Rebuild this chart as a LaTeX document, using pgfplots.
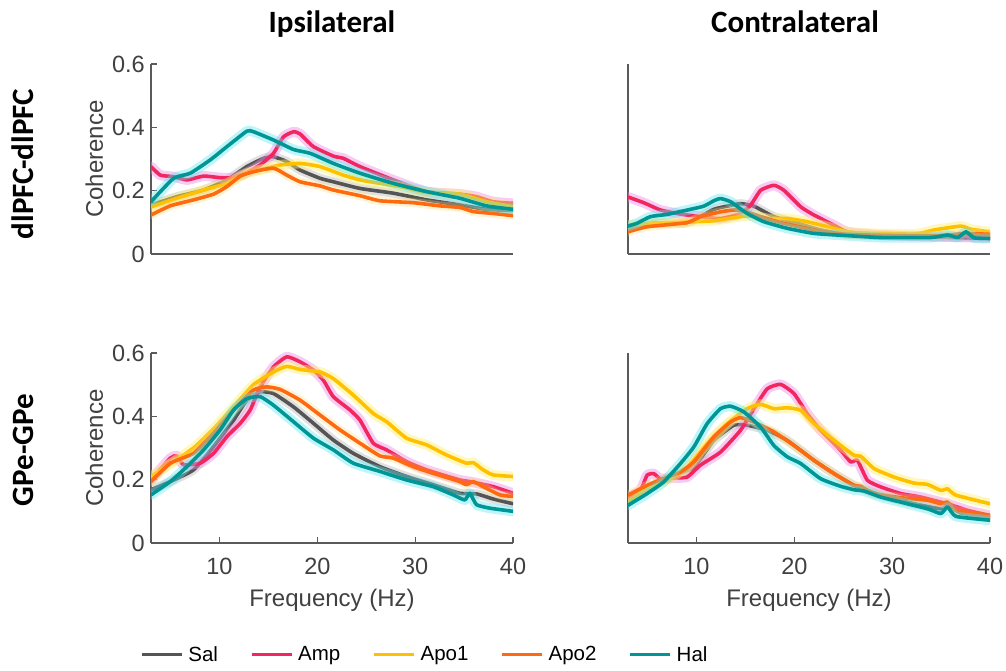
\documentclass[border=0pt]{standalone}
\usepackage{fontspec}
\setmainfont{Liberation Sans}
\newfontfamily\calibri{Carlito}
\usepackage{pgfplots}
\usepackage{pgfplotstable}
\pgfplotsset{compat=1.18}

\definecolor{csal}{RGB}{85,85,85}
\definecolor{camp}{RGB}{240,40,95}
\definecolor{capo1}{RGB}{255,192,0}
\definecolor{capo2}{RGB}{255,105,15}
\definecolor{chal}{RGB}{0,150,150}
\definecolor{hsal}{RGB}{170,170,170}
\definecolor{hamp}{RGB}{240,140,230}
\definecolor{hapo1}{RGB}{255,240,110}
\definecolor{hapo2}{RGB}{255,220,120}
\definecolor{hhal}{RGB}{90,230,240}
\definecolor{axgray}{RGB}{90,90,90}
\definecolor{txgray}{RGB}{64,64,64}

% ---------------- data ----------------
\pgfplotstableread{
3 0.155
5.65 0.181
8.37 0.202
10.76 0.234
12.8 0.276
14.5 0.302
15.52 0.307
16.88 0.292
18.24 0.265
20.28 0.239
21.64 0.228
24.36 0.207
27.76 0.192
31.16 0.171
34.56 0.155
37.29 0.141
40 0.137
}\TLsal
\pgfplotstableread{
3 0.276
3.95 0.249
5.31 0.244
6.67 0.234
8.37 0.246
10.07 0.241
11.44 0.241
12.8 0.257
14.16 0.281
15.52 0.318
16.54 0.37
17.56 0.386
18.24 0.379
19.6 0.339
21.64 0.309
22.66 0.302
24.36 0.276
27.76 0.234
31.16 0.197
34.56 0.189
36.27 0.181
37.97 0.165
40 0.16
}\TLamp
\pgfplotstableread{
3 0.149
5.65 0.176
8.37 0.202
10.76 0.223
12.8 0.255
14.84 0.271
16.2 0.281
18.24 0.286
20.28 0.276
22.66 0.249
24.36 0.234
26.4 0.223
28.78 0.211
31.16 0.194
34.56 0.189
37.29 0.165
40 0.149
}\TLapoa
\pgfplotstableread{
3 0.123
4.97 0.152
7.35 0.171
9.39 0.189
10.76 0.213
12.12 0.246
13.48 0.26
15.52 0.271
16.88 0.249
18.24 0.228
20.28 0.215
21.64 0.202
24.36 0.184
26.4 0.168
29.8 0.162
32.52 0.152
34.56 0.147
35.93 0.134
37.97 0.128
40 0.121
}\TLapob
\pgfplotstableread{
3 0.165
5.31 0.239
7.01 0.255
9.05 0.297
10.76 0.339
12.8 0.388
13.48 0.386
15.52 0.36
17.56 0.33
19.26 0.318
21.64 0.286
24.36 0.255
27.76 0.223
31.16 0.197
34.56 0.176
37.29 0.152
40 0.141
}\TLhal

\pgfplotstableread{
3 0.081
5.63 0.097
9.04 0.099
11.77 0.141
13.14 0.151
14.5 0.159
15.87 0.151
17.91 0.118
20.3 0.097
22.69 0.076
25.42 0.062
32.25 0.055
40 0.049
}\TRsal
\pgfplotstableread{
3 0.18
4.6 0.162
6.31 0.139
8.36 0.126
10.41 0.118
12.45 0.112
14.5 0.128
15.53 0.154
16.55 0.201
17.91 0.217
18.94 0.201
20.65 0.149
22.01 0.123
24.06 0.091
25.42 0.07
28.84 0.06
35.66 0.055
40 0.055
}\TRamp
\pgfplotstableread{
3 0.091
5.63 0.097
9.04 0.101
11.77 0.105
14.5 0.118
15.87 0.12
17.23 0.112
19.28 0.112
21.33 0.102
24.06 0.081
26.11 0.067
32.25 0.063
34.3 0.076
37.03 0.088
38.05 0.078
40 0.07
}\TRapoa
\pgfplotstableread{
3 0.07
4.95 0.086
9.04 0.099
10.41 0.118
12.45 0.133
13.82 0.139
14.84 0.136
16.55 0.118
18.6 0.099
22.01 0.076
25.42 0.062
32.25 0.057
35.66 0.059
37.37 0.065
40 0.062
}\TRapob
\pgfplotstableread{
3 0.088
3.92 0.097
5.29 0.118
6.99 0.125
9.38 0.141
10.75 0.151
11.77 0.168
12.45 0.175
13.48 0.165
15.18 0.128
16.89 0.102
19.28 0.081
22.01 0.065
25.42 0.058
28.84 0.052
33.96 0.052
35.66 0.06
36.69 0.052
37.54 0.07
38.39 0.051
40 0.049
}\TRhal

\pgfplotstableread{
3 0.168
4.97 0.194
7.35 0.231
9.39 0.304
11.44 0.388
12.8 0.451
14.16 0.477
15.52 0.472
17.56 0.43
19.6 0.378
21.64 0.325
23.68 0.283
26.4 0.241
29.12 0.21
31.84 0.184
34.56 0.157
36.27 0.155
37.97 0.139
40 0.124
}\BLsal
\pgfplotstableread{
3 0.199
4.97 0.268
5.65 0.275
6.33 0.247
8.03 0.252
9.39 0.283
10.76 0.336
12.12 0.378
13.14 0.42
14.16 0.493
15.52 0.556
16.88 0.588
18.24 0.572
19.6 0.546
20.62 0.514
21.64 0.462
23.34 0.42
24.36 0.388
25.72 0.315
27.08 0.294
29.12 0.257
31.16 0.231
34.56 0.199
35.59 0.194
37.97 0.178
40 0.157
}\BLamp
\pgfplotstableread{
3 0.21
4.97 0.25
7.35 0.30
9.39 0.36
11.44 0.43
13.48 0.50
15.52 0.54
16.88 0.558
18.24 0.548
20.28 0.54
21.64 0.519
23.68 0.467
25.72 0.409
27.08 0.383
29.12 0.331
31.16 0.31
33.2 0.278
35.24 0.252
35.93 0.254
36.95 0.231
37.97 0.215
40 0.21
}\BLapoa
\pgfplotstableread{
3 0.194
4.97 0.252
7.35 0.283
9.39 0.346
11.44 0.42
13.48 0.483
14.84 0.493
16.2 0.485
18.24 0.451
20.28 0.404
22.32 0.357
24.36 0.315
26.4 0.275
27.76 0.268
29.8 0.241
31.84 0.22
34.56 0.194
35.24 0.184
35.93 0.194
36.95 0.178
38.65 0.152
40 0.147
}\BLapob
\pgfplotstableread{
3 0.152
4.97 0.194
6.67 0.241
8.37 0.294
10.07 0.357
11.44 0.42
12.8 0.456
14.16 0.462
15.52 0.435
17.56 0.383
19.6 0.331
21.64 0.294
23.68 0.252
26.4 0.226
29.12 0.199
31.84 0.178
33.88 0.152
35.07 0.136
35.59 0.157
36.27 0.121
37.63 0.11
40 0.1
}\BLhal

\pgfplotstableread{
3 0.135
4.95 0.172
6.99 0.203
9.72 0.24
11.77 0.324
13.82 0.372
15.18 0.372
17.23 0.356
19.28 0.324
22.01 0.261
24.06 0.219
26.11 0.182
28.84 0.151
32.25 0.124
34.98 0.108
35.66 0.119
37.03 0.095
40 0.08
}\BRsal
\pgfplotstableread{
3 0.145
4.26 0.166
4.95 0.214
5.63 0.219
6.31 0.203
7.68 0.206
9.04 0.208
10.41 0.246
12.45 0.287
14.5 0.356
15.87 0.424
17.23 0.487
18.6 0.501
19.96 0.472
21.33 0.408
22.69 0.356
24.74 0.293
25.76 0.256
26.45 0.261
27.47 0.198
28.84 0.177
30.88 0.156
32.93 0.145
34.98 0.129
35.66 0.124
37.71 0.103
40 0.087
}\BRamp
\pgfplotstableread{
3 0.129
4.95 0.172
6.99 0.198
9.04 0.24
11.09 0.314
13.14 0.377
15.18 0.424
16.55 0.438
17.91 0.424
19.28 0.427
20.65 0.419
22.01 0.377
24.06 0.324
26.11 0.277
26.79 0.274
28.15 0.235
30.2 0.208
32.25 0.189
33.61 0.185
34.98 0.166
35.66 0.171
36.52 0.151
40 0.124
}\BRapoa
\pgfplotstableread{
3 0.151
4.95 0.182
6.99 0.208
8.36 0.224
9.72 0.256
11.77 0.335
13.48 0.382
14.5 0.396
15.87 0.382
17.91 0.351
19.96 0.308
22.01 0.261
24.06 0.219
26.11 0.182
26.79 0.179
28.15 0.156
30.88 0.143
33.61 0.135
34.98 0.124
35.66 0.129
36.52 0.103
40 0.087
}\BRapob
\pgfplotstableread{
3 0.119
4.95 0.156
6.65 0.193
8.36 0.251
9.72 0.303
11.09 0.377
12.45 0.424
13.48 0.432
14.84 0.414
16.55 0.366
17.91 0.308
19.28 0.272
20.65 0.251
22.69 0.203
24.74 0.179
26.11 0.168
27.13 0.164
28.84 0.145
30.88 0.129
33.61 0.108
34.98 0.093
35.66 0.114
36.52 0.084
40 0.072
}\BRhal

% ---------------- styles ----------------
\pgfplotsset{
  curve/.style={smooth, tension=0.3, line join=round, line cap=round},
  sal/.style={curve, color=csal, line width=3.6pt},
  amp/.style={curve, color=camp, line width=3.6pt},
  apoa/.style={curve, color=capo1, line width=3.6pt},
  apob/.style={curve, color=capo2, line width=3.6pt},
  hal/.style={curve, color=chal, line width=3.6pt},
  salh/.style={curve, color=hsal, opacity=0.35, line width=9pt},
  amph/.style={curve, color=hamp, opacity=0.45, line width=10pt},
  apoah/.style={curve, color=hapo1, opacity=0.45, line width=10pt},
  apobh/.style={curve, color=hapo2, opacity=0.3, line width=9pt},
  halh/.style={curve, color=hhal, opacity=0.4, line width=10pt},
  panel/.style={
    scale only axis, width=362pt, height=190pt,
    xmin=3, xmax=40, ymin=0, ymax=0.6,
    axis x line*=bottom, axis y line*=left,
    axis line style={color=axgray, line width=1.2pt},
    tick style={color=axgray, line width=1.2pt},
    tick align=inside, major tick length=6pt,
    /pgf/number format/assume math mode=true,
    ticklabel style={font=\fontsize{23.5}{24}\selectfont, text=txgray},
    label style={font=\fontsize{24}{25}\selectfont, text=txgray},
    yticklabel style={inner xsep=6pt},
    xticklabel style={inner ysep=0pt, yshift=-15pt},
    ylabel style={at={(axis description cs:-0.1326,0.5)}, anchor=base},
    xlabel style={at={(axis description cs:0.5,-0.335)}, anchor=base},
  },
}

\newcommand{\series}[2]{%
  \addplot[#1h, forget plot] table {#2};
  \addplot[#1] table {#2};
}

\begin{document}
\begin{tikzpicture}
\path[use as bounding box] (0pt,0pt) rectangle (1006pt,671pt);

% top-left
\begin{axis}[panel, at={(151pt,417pt)}, anchor=south west,
  ytick={0,0.2,0.4,0.6}, yticklabels={0,0.2,0.4,0.6}, xtick=\empty,
  ylabel={Coherence}]
  \series{sal}{\TLsal}
  \series{amp}{\TLamp}
  \series{apoa}{\TLapoa}
  \series{apob}{\TLapob}
  \series{hal}{\TLhal}
\end{axis}

% top-right
\begin{axis}[panel, at={(628pt,417pt)}, anchor=south west,
  ytick=\empty, xtick=\empty]
  \series{sal}{\TRsal}
  \series{amp}{\TRamp}
  \series{apoa}{\TRapoa}
  \series{apob}{\TRapob}
  \series{hal}{\TRhal}
\end{axis}

% bottom-left
\begin{axis}[panel, at={(151pt,128pt)}, anchor=south west,
  ytick={0,0.2,0.4,0.6}, yticklabels={0,0.2,0.4,0.6},
  xtick={10,20,30,40}, xticklabels={10,20,30,40},
  ylabel={Coherence}, xlabel={Frequency (Hz)},
  legend columns=5,
  legend image code/.code={\draw[#1, line width=3.2pt, line cap=butt] (0pt,0pt) -- (40pt,0pt);},
  legend style={at={(axis description cs:-0.0304,-0.586)}, anchor=west,
    draw=none, fill=none, inner sep=0pt,
    font=\fontsize{20.5}{21}\selectfont, text=black,
    nodes={inner xsep=5pt, inner ysep=2pt},
    /tikz/every even column/.append style={column sep=27pt}},
  legend cell align=left]
  \series{sal}{\BLsal}
  \series{amp}{\BLamp}
  \series{apoa}{\BLapoa}
  \series{apob}{\BLapob}
  \series{hal}{\BLhal}
  \legend{Sal,Amp,Apo1,Apo2,Hal}
\end{axis}

% bottom-right
\begin{axis}[panel, at={(628pt,128pt)}, anchor=south west,
  ytick=\empty,
  xtick={10,20,30,40}, xticklabels={10,20,30,40},
  xlabel={Frequency (Hz)}]
  \series{sal}{\BRsal}
  \series{amp}{\BRamp}
  \series{apoa}{\BRapoa}
  \series{apob}{\BRapob}
  \series{hal}{\BRhal}
\end{axis}

% titles and row labels
\node[anchor=base, font=\calibri\bfseries\fontsize{31}{32}\selectfont] at (332pt,638pt) {Ipsilateral};
\node[anchor=base, font=\calibri\bfseries\fontsize{31}{32}\selectfont] at (795pt,638pt) {Contralateral};
\node[anchor=base, rotate=90, font=\calibri\bfseries\fontsize{31}{32}\selectfont] at (33pt,507pt) {dlPFC-dlPFC};
\node[anchor=base, rotate=90, font=\calibri\bfseries\fontsize{31}{32}\selectfont] at (33pt,221pt) {GPe-GPe};
\end{tikzpicture}
\end{document}
